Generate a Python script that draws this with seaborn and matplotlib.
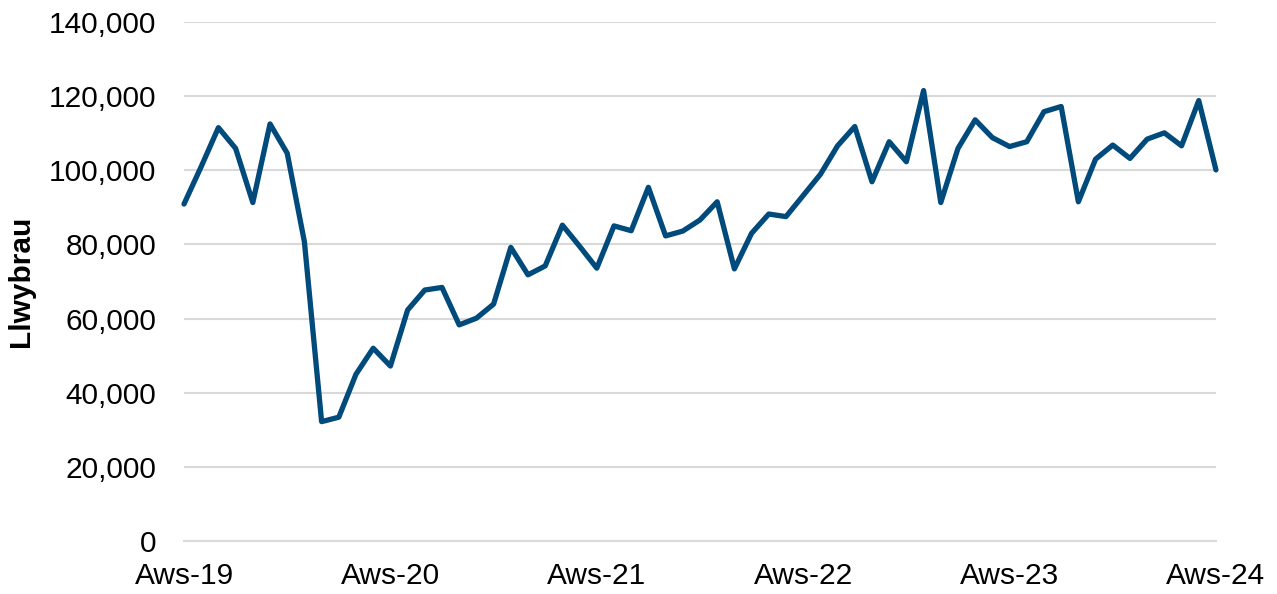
import matplotlib
matplotlib.use("Agg")
import matplotlib.pyplot as plt
from matplotlib.ticker import FuncFormatter
import pandas as pd
import seaborn as sns

# monthly values, Aug 2019 .. Aug 2024
values = [
    90900, 101000, 111500, 105900, 91300, 112500, 104600, 80700, 32200, 33400,
    45000, 52000, 47200, 62300, 67700, 68400, 58300, 60100, 63900, 79200,
    71800, 74200, 85200, 79500, 73600, 85000, 83700, 95400, 82300, 83600,
    86600, 91500, 73400, 83000, 88200, 87500, 93200, 98900, 106600, 111800,
    96900, 107700, 102300, 121500, 91300, 105900, 113600, 108800, 106400, 107700,
    115800, 117200, 91500, 103000, 106800, 103200, 108400, 110100, 106600, 118800,
    100100,
]
year_labels = ["Aws-19", "Aws-20", "Aws-21", "Aws-22", "Aws-23", "Aws-24"]
y_label = "Llwybrau"

df = pd.DataFrame({"month": range(len(values)), "value": values})

sns.set_style("white")
plt.rcParams["font.family"] = ["Liberation Sans", "DejaVu Sans"]
plt.rcParams["text.color"] = "black"
plt.rcParams["xtick.labelcolor"] = "black"
plt.rcParams["ytick.labelcolor"] = "black"
plt.rcParams["axes.labelcolor"] = "black"

fig = plt.figure(figsize=(12.77, 5.94), dpi=100)
ax = fig.add_axes([0.1441, 0.0892, 0.8081, 0.8738])

sns.lineplot(data=df, x="month", y="value", ax=ax, color="#004a7c", linewidth=3.8)
for ln in ax.lines:
    ln.set_clip_on(False)
    ln.set_solid_joinstyle("round")

ax.set_ylim(0, 140000)
ax.set_yticks(range(0, 140001, 20000))
ax.yaxis.set_major_formatter(FuncFormatter(lambda v, p: f"{int(v):,}"))
ax.grid(axis="y", color="#d9d9d9", linewidth=1.5)
ax.set_axisbelow(True)

ax.set_xlim(0, len(values) - 1)
ticks = list(range(0, len(values), 6))
ax.set_xticks(ticks)
ax.set_xticklabels([year_labels[t // 12] if t % 12 == 0 else "" for t in ticks])

for side in ["top", "right", "left"]:
    ax.spines[side].set_visible(False)
ax.spines["bottom"].set_color("#d9d9d9")
ax.spines["bottom"].set_linewidth(1.5)

ax.tick_params(axis="x", direction="out", length=7, width=1.5, color="#d9d9d9",
               labelsize=21.5, pad=8)
ax.tick_params(axis="y", length=0, labelsize=21.5, pad=20)

ax.set_xlabel("")
ax.set_ylabel(y_label, fontsize=21.5, fontweight="bold", labelpad=10)

fig.savefig("out.png", dpi=100)
